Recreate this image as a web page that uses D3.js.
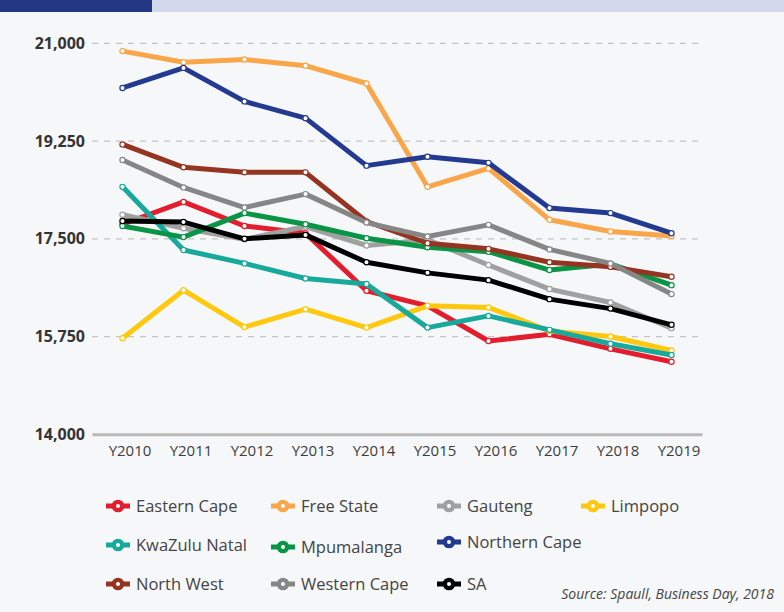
<!DOCTYPE html>
<html>
<head>
<meta charset="utf-8">
<script src="https://cdn.jsdelivr.net/npm/d3@7/dist/d3.min.js"></script>
<style>
  body { margin: 0; background: #f6f7f9; }
  text { font-family: "Open Sans", "Noto Sans", sans-serif; }
</style>
</head>
<body>
<div id="chart"></div>
<script>
var years = ["Y2010","Y2011","Y2012","Y2013","Y2014","Y2015","Y2016","Y2017","Y2018","Y2019"];
var yTicks = [14000, 15750, 17500, 19250, 21000];

var easternCape   = [17760, 18160, 17730, 17600, 16570, 16300, 15670, 15790, 15530, 15300];
var freeState     = [20860, 20660, 20710, 20600, 20280, 18430, 18760, 17840, 17630, 17550];
var gauteng       = [17930, 17690, 17490, 17720, 17380, 17480, 17030, 16600, 16360, 15900];
var limpopo       = [15720, 16580, 15920, 16240, 15910, 16300, 16270, 15850, 15750, 15500];
var kwazuluNatal  = [18430, 17300, 17060, 16790, 16690, 15910, 16120, 15870, 15620, 15420];
var mpumalanga    = [17730, 17530, 17960, 17760, 17510, 17350, 17270, 16940, 17050, 16670];
var northernCape  = [20200, 20560, 19960, 19660, 18810, 18970, 18860, 18050, 17960, 17600];
var northWest     = [19190, 18780, 18690, 18690, 17810, 17420, 17320, 17080, 17000, 16820];
var westernCape   = [18910, 18420, 18060, 18300, 17790, 17540, 17750, 17310, 17060, 16510];
var sa            = [17820, 17800, 17500, 17570, 17080, 16890, 16760, 16420, 16250, 15960];

var seriesNames = ["Eastern Cape","Free State","Gauteng","Limpopo","KwaZulu Natal",
                   "Mpumalanga","Northern Cape","North West","Western Cape","SA"];
var seriesValues = [easternCape, freeState, gauteng, limpopo, kwazuluNatal,
                    mpumalanga, northernCape, northWest, westernCape, sa];

function draw_lines(lugar)
{
  "use strict";

  var colores = ["#e31d2d","#f9a64a","#a0a0a0","#fdc80d","#17a99b",
                 "#0a9446","#233a90","#953521","#868686","#000000"];

  var width = 784,
    height = 612;

  var svg = d3.select(lugar)
    .append("svg")
      .attr("width", width)
      .attr("height", height);

  svg.append("rect").attr("width", width).attr("height", height).attr("fill", "#f6f7f9");
  svg.append("rect").attr("width", width).attr("height", 12).attr("fill", "#d3d9ed");
  svg.append("rect").attr("width", 152).attr("height", 12).attr("fill", "#233885");

  var x = d3.scaleBand().domain(years).range([92, 702]);
  var y = d3.scaleLinear().domain([14000, 21000]).range([434.3, 43.3]);

  // dashed grid lines
  svg.append("g")
    .selectAll("line")
    .data(yTicks.slice(1))
    .enter().append("line")
      .attr("x1", 92).attr("x2", 702)
      .attr("y1", function(d){ return y(d); })
      .attr("y2", function(d){ return y(d); })
      .attr("stroke", "#c4c4c4")
      .attr("stroke-width", 1.2)
      .attr("stroke-dasharray", "6,6");

  var yAxis = svg.append("g")
    .attr("transform", "translate(92,0)")
    .call(d3.axisLeft(y).tickValues(yTicks).tickSize(0).tickPadding(7).tickFormat(d3.format(",")));
  yAxis.select(".domain").remove();
  yAxis.selectAll("text")
    .style("font-size", "16px")
    .style("font-weight", "bold")
    .attr("fill", "#333");

  var xAxis = svg.append("g")
    .attr("transform", "translate(0," + y(14000) + ")")
    .call(d3.axisBottom(x).tickSize(0).tickPadding(11));
  xAxis.select(".domain").attr("stroke", "#b9b9b9").attr("stroke-width", 3);
  xAxis.selectAll("text")
    .attr("dx", 7.5)
    .style("font-size", "15px")
    .attr("fill", "#3d3d3d");

  var line = d3.line()
    .x(function(d, i){ return x(years[i]) + x.bandwidth() / 2; })
    .y(function(d){ return y(d); });

  seriesValues.forEach(function(valores, id){
    var g = svg.append("g");
    g.append("path")
      .datum(valores)
      .attr("d", line)
      .attr("fill", "none")
      .attr("stroke", colores[id])
      .attr("stroke-width", 5)
      .attr("stroke-linejoin", "round");
    g.selectAll("circle")
      .data(valores)
      .enter().append("circle")
        .attr("cx", function(d, i){ return x(years[i]) + x.bandwidth() / 2; })
        .attr("cy", function(d){ return y(d); })
        .attr("r", 2.6)
        .attr("fill", "#fff")
        .attr("stroke", colores[id])
        .attr("stroke-width", 1.2);
  });

  // legend: 4 + 3 + 3 items per row
  var colX = [118, 283, 449, 593];
  var rowY = [506, 545, 584];
  var ajusteY = [0, 0, 0, 0, 0, 2, -3, 0, 0, 0];

  seriesNames.forEach(function(nombre, id){
    var fila, col;
    if (id < 4) { fila = 0; col = id; }
    else if (id < 7) { fila = 1; col = id - 4; }
    else { fila = 2; col = id - 7; }
    var cx = colX[col];
    var cy = rowY[fila] + ajusteY[id];
    var item = svg.append("g");
    item.append("line")
      .attr("x1", cx - 12).attr("x2", cx + 12)
      .attr("y1", cy).attr("y2", cy)
      .attr("stroke", colores[id])
      .attr("stroke-width", 5);
    item.append("circle")
      .attr("cx", cx).attr("cy", cy).attr("r", 6.3)
      .attr("fill", colores[id]);
    item.append("circle")
      .attr("cx", cx).attr("cy", cy).attr("r", 2)
      .attr("fill", "#fff");
    item.append("text")
      .attr("x", cx + 18)
      .attr("y", cy + 6)
      .text(nombre)
      .style("font-size", "16.5px")
      .attr("fill", "#444");
  });

  svg.append("text")
    .attr("x", 774)
    .attr("y", 599)
    .attr("text-anchor", "end")
    .text("Source: Spaull, Business Day, 2018")
    .style("font-size", "14px")
    .style("font-style", "italic")
    .attr("fill", "#444");
}

draw_lines("#chart");
</script>
</body>
</html>
